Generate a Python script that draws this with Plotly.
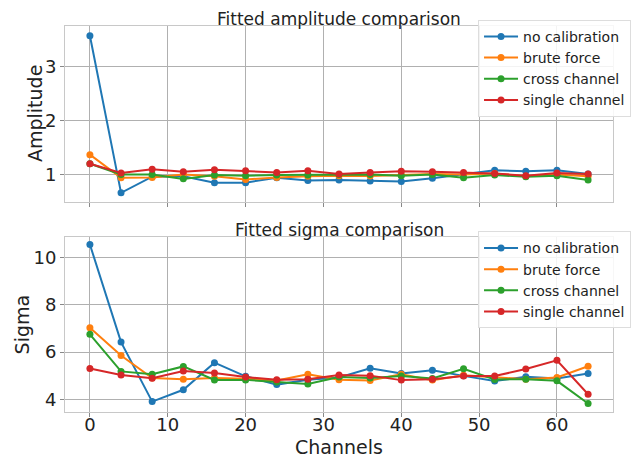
import plotly.graph_objects as go

channels = [0, 4, 8, 12, 16, 20, 24, 28, 32, 36, 40, 44, 48, 52, 56, 60, 64]
series_names = ["no calibration", "brute force", "cross channel", "single channel"]
colors = ["#1f77b4", "#ff7f0e", "#2ca02c", "#d62728"]

amp_no_cal = [3.58, 0.66, 0.96, 0.97, 0.85, 0.85, 0.94, 0.89, 0.90, 0.88, 0.87, 0.93, 1.00, 1.08, 1.06, 1.08, 1.01]
amp_brute = [1.37, 0.94, 0.945, 1.00, 0.97, 0.91, 0.945, 0.97, 0.98, 0.975, 0.99, 1.01, 1.00, 1.02, 0.97, 1.00, 0.97]
amp_cross = [1.20, 1.00, 1.00, 0.92, 0.99, 0.98, 0.99, 0.99, 1.00, 1.00, 0.98, 1.00, 0.94, 0.99, 0.96, 0.98, 0.90]
amp_single = [1.20, 1.03, 1.10, 1.05, 1.09, 1.07, 1.04, 1.07, 1.01, 1.04, 1.06, 1.05, 1.04, 1.02, 0.98, 1.03, 1.01]

sig_no_cal = [10.55, 6.42, 3.90, 4.40, 5.55, 4.97, 4.62, 4.83, 4.92, 5.31, 5.09, 5.23, 4.99, 4.77, 4.95, 4.88, 5.09]
sig_brute = [7.03, 5.85, 4.90, 4.85, 4.90, 4.87, 4.79, 5.06, 4.83, 4.79, 5.06, 4.81, 5.02, 4.92, 4.85, 4.92, 5.40]
sig_cross = [6.75, 5.18, 5.06, 5.39, 4.82, 4.82, 4.73, 4.65, 4.94, 4.90, 4.98, 4.88, 5.29, 4.84, 4.85, 4.78, 3.82]
sig_single = [5.30, 5.03, 4.89, 5.20, 5.11, 4.94, 4.83, 4.85, 5.03, 5.00, 4.81, 4.85, 4.98, 4.98, 5.28, 5.65, 4.21]

amp_series = [amp_no_cal, amp_brute, amp_cross, amp_single]
sig_series = [sig_no_cal, sig_brute, sig_cross, sig_single]

fig = go.Figure()
for name, col, vals in zip(series_names, colors, amp_series):
    fig.add_trace(go.Scatter(x=channels, y=vals, name=name, mode="lines+markers",
                             line=dict(color=col, width=2), marker=dict(color=col, size=7),
                             xaxis="x", yaxis="y", legend="legend", legendgroup="a" + name))
for name, col, vals in zip(series_names, colors, sig_series):
    fig.add_trace(go.Scatter(x=channels, y=vals, name=name, mode="lines+markers",
                             line=dict(color=col, width=2), marker=dict(color=col, size=7),
                             xaxis="x2", yaxis="y2", legend="legend2", legendgroup="s" + name))

font_family = "DejaVu Sans"
grid = "#b0b0b0"
axis_common = dict(showgrid=True, gridcolor=grid, gridwidth=1, showline=True, linecolor="#c8c8c8",
                   linewidth=1, mirror=True, ticks="outside", ticklen=4, tickcolor="#888888",
                   zeroline=False, automargin=False, tickfont=dict(size=18, color="#222222"))

legend_common = dict(font=dict(size=14, family=font_family, color="#222222"), bgcolor="rgba(255,255,255,0.85)",
                     bordercolor="#dddddd", borderwidth=1, xanchor="left", yanchor="top",
                     tracegroupgap=0, itemwidth=34)

title_font = dict(size=19, family=font_family, color="#222222")

# page body has an 8px default margin, so the figure is sized to fit the window
fig.update_layout(
    width=632, height=451,
    margin=dict(l=57, r=27, t=18, b=47, autoexpand=False),
    paper_bgcolor="white", plot_bgcolor="white",
    font=dict(family=font_family, color="#222222"),
    xaxis=dict(domain=[0, 1], range=[-3.2, 67.2], anchor="y", showticklabels=False,
               tickvals=[0, 10, 20, 30, 40, 50, 60], **axis_common),
    yaxis=dict(domain=[0.544, 1], range=[0.49, 3.76], anchor="x", tickvals=[1, 2, 3], **axis_common),
    xaxis2=dict(domain=[0, 1], range=[-3.2, 67.2], anchor="y2", tickvals=[0, 10, 20, 30, 40, 50, 60],
                ticklabelstandoff=-8, **axis_common),
    yaxis2=dict(domain=[0, 0.454], range=[3.46, 10.88], anchor="x2", tickvals=[4, 6, 8, 10], **axis_common),
    legend=dict(x=0.7537, y=1.016, **legend_common),
    legend2=dict(x=0.7537, y=0.468, **legend_common),
    annotations=[
        dict(text="Fitted amplitude comparison", x=0.5, y=1.0, xref="paper", yref="paper",
             xanchor="center", yanchor="bottom", yshift=-5, showarrow=False, font=dict(size=17)),
        dict(text="Fitted sigma comparison", x=0.5, y=0.454, xref="paper", yref="paper",
             xanchor="center", yanchor="bottom", yshift=-5, showarrow=False, font=dict(size=17)),
        dict(text="Channels", x=0.5, y=0, xref="paper", yref="paper", xanchor="center",
             yanchor="middle", yshift=-35, showarrow=False, font=title_font),
        dict(text="Amplitude", x=0, y=0.772, xref="paper", yref="paper", xanchor="center",
             yanchor="middle", xshift=-30, textangle=-90, showarrow=False, font=title_font),
        dict(text="Sigma", x=0, y=0.227, xref="paper", yref="paper", xanchor="center",
             yanchor="middle", xshift=-43, textangle=-90, showarrow=False, font=title_font),
    ],
    showlegend=True,
)

fig.write_html("out.html")
